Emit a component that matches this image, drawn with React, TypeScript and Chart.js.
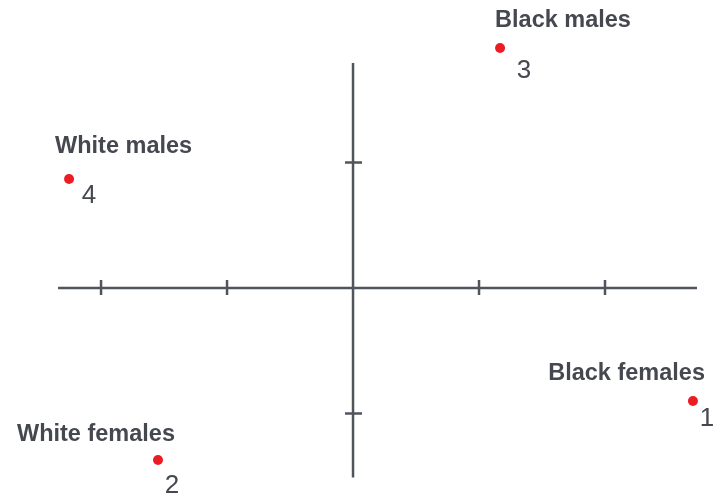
import React, { useEffect, useRef } from "react";
import { Chart, registerables } from "chart.js";

Chart.register(...registerables);

// Group names and their ordinal numbers
const groups = ["Black females", "White females", "Black males", "White males"];
const groupNumbers = ["1", "2", "3", "4"];

// Coordinates on the two dimensions
const dim1 = [2.698, -1.548, 1.167, -2.254];
const dim2 = [-0.9, -1.37, 1.912, 0.869];

// Axis extents and tick positions
const xAxisRange = [-2.341, 2.73];
const yAxisRange = [-1.51, 1.793];
const xTicks = [-2, -1, 1, 2];
const yTicks = [-1, 1];

// Label placement relative to each point (pixels)
const nameOffsets = [
  { dx: 12, dy: -27, align: "right" },
  { dx: 17, dy: -25, align: "right" },
  { dx: -5, dy: -28, align: "left" },
  { dx: -14, dy: -32, align: "left" },
];
const numberOffsets = [
  { dx: 14, dy: 18 },
  { dx: 14, dy: 26 },
  { dx: 24, dy: 23 },
  { dx: 20, dy: 17 },
];

const AXIS_COLOR = "#50545c";
const TEXT_COLOR = "#45484f";

const crossAxes = {
  id: "crossAxes",
  beforeDatasetsDraw(chart: any) {
    const { ctx } = chart;
    const xs = chart.scales.x;
    const ys = chart.scales.y;
    const ox = xs.getPixelForValue(0);
    const oy = ys.getPixelForValue(0);
    ctx.save();
    ctx.strokeStyle = AXIS_COLOR;
    ctx.lineWidth = 2.5;
    ctx.lineCap = "butt";
    ctx.beginPath();
    ctx.moveTo(xs.getPixelForValue(xAxisRange[0]), oy);
    ctx.lineTo(xs.getPixelForValue(xAxisRange[1]), oy);
    ctx.moveTo(ox, ys.getPixelForValue(yAxisRange[0]));
    ctx.lineTo(ox, ys.getPixelForValue(yAxisRange[1]));
    for (const t of xTicks) {
      const px = xs.getPixelForValue(t);
      ctx.moveTo(px, oy - 8);
      ctx.lineTo(px, oy + 7);
    }
    for (const t of yTicks) {
      const py = ys.getPixelForValue(t);
      ctx.moveTo(ox - 8, py);
      ctx.lineTo(ox + 9, py);
    }
    ctx.stroke();
    ctx.restore();
  },
};

const pointLabels = {
  id: "pointLabels",
  afterDatasetsDraw(chart: any) {
    const { ctx } = chart;
    const meta = chart.getDatasetMeta(0);
    ctx.save();
    ctx.fillStyle = TEXT_COLOR;
    ctx.textBaseline = "middle";
    meta.data.forEach((pt: any, i: number) => {
      const n = nameOffsets[i];
      ctx.font = "bold 23.5px 'Liberation Sans', Arial, sans-serif";
      ctx.textAlign = n.align;
      ctx.fillText(groups[i], pt.x + n.dx, pt.y + n.dy);
      const m = numberOffsets[i];
      ctx.font = "26px 'Liberation Sans', Arial, sans-serif";
      ctx.textAlign = "center";
      ctx.fillText(groupNumbers[i], pt.x + m.dx, pt.y + m.dy);
    });
    ctx.restore();
  },
};

export default function App() {
  const ref = useRef<HTMLCanvasElement>(null);

  useEffect(() => {
    if (!ref.current) return;
    const chart = new Chart(ref.current, {
      type: "scatter",
      data: {
        datasets: [
          {
            data: dim1.map((x, i) => ({ x, y: dim2[i] })),
            pointRadius: 5,
            pointBackgroundColor: "#ec1c24",
            pointBorderWidth: 0,
            pointBorderColor: "#ec1c24",
          },
        ],
      },
      options: {
        animation: false,
        responsive: false,
        layout: { padding: 0, autoPadding: false },
        plugins: {
          legend: { display: false },
          tooltip: { enabled: false },
        },
        scales: {
          x: { display: false, min: -2.802, max: 2.873 },
          y: { display: false, min: -1.705, max: 2.295 },
        },
      },
      plugins: [crossAxes, pointLabels],
    });
    return () => chart.destroy();
  }, []);

  return (
    <div style={{ position: "fixed", left: 0, top: 0, width: 715, height: 502, background: "#ffffff" }}>
      <canvas ref={ref} width={715} height={502} style={{ display: "block" }} />
    </div>
  );
}
